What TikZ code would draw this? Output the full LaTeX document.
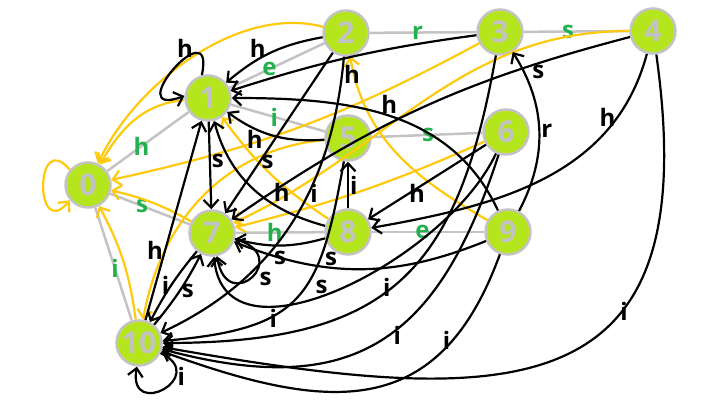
\documentclass[tikz,border=0pt]{standalone}
\usepackage{fontspec}
\setmainfont{Open Sans}
\usetikzlibrary{arrows.meta}
\definecolor{stategreen}{HTML}{B5E61D}
\definecolor{stategray}{HTML}{C3C3C3}
\definecolor{failyellow}{HTML}{FFC90E}
\definecolor{triegreen}{HTML}{22B14C}
\begin{document}
\begin{tikzpicture}
  [x=1pt,y=1pt,>={Straight Barb[length=8pt,width=15pt]},
   every node/.style={font=\bfseries\fontsize{24}{24}\selectfont,inner sep=1pt},
   state/.style={circle,fill=stategreen,draw=stategray,line width=2.5pt,minimum size=45pt,inner sep=0pt,text=stategray,font=\bfseries\fontsize{30}{30}\selectfont},
   trie/.style={draw=stategray,line width=2.5pt},
   failed/.style={->,draw=failyellow,line width=2.2pt},
   trans/.style={->,draw=black,line width=2.2pt},
   tlabel/.style={text=triegreen}]
  \useasboundingbox (0,0) rectangle (709,416);

  \node[state] (n0) at (88,231) {0};
  \node[state] (n1) at (208,318) {1};
  \node[state] (n2) at (346,383) {2};
  \node[state] (n3) at (500,384) {3};
  \node[state] (n4) at (653,385) {4};
  \node[state] (n5) at (348,278) {5};
  \node[state] (n6) at (506,284) {6};
  \node[state] (n7) at (212,183) {7};
  \node[state] (n8) at (348,184) {8};
  \node[state] (n9) at (508,184) {9};
  \node[state] (n10) at (139,73) {10};

  % trie
  \foreach \from/\to/\l/\p in {n0/n1/h/.42, n1/n2/e/.42, n2/n3/r/.45, n3/n4/s/.42,
      n1/n5/i/.46, n5/n6/s/.51, n0/n7/s/.4, n7/n8/h/.44, n8/n9/e/.45, n0/n10/i/.54}
    \draw[trie] (\from) -- node[tlabel,pos=\p] {\l} (\to);

  % failure links
  \draw[failed] (n0.140) .. controls +(130:55) and +(-130:55) .. (n0.-140);
  \draw[failed] (n1) to[out=185,in=60] (n0);
  \draw[failed] (n2) to[out=165,in=65,looseness=.85] (n0);
  \draw[failed] (n3) to[bend left=8] (n0);
  \draw[failed] (n7) to[bend right=8] (n0);
  \draw[failed] (n10) to[bend right=10] (n0);
  \draw[failed] (n5) to[out=185,in=80] (n10);
  \draw[failed] (n8) to[bend left=10] (n1);
  \draw[failed] (n6) to[bend left=5] (n7);
  \draw[failed] (n4) to[out=180,in=25] (n7);
  \draw[failed] (n9) to[out=150,in=-80] (n2);

  % transitions
  \draw[trans] (n1.105) .. controls +(78:70) and +(200:70) .. node[above=-1pt,pos=.38]{h} (n1.175);
  \draw[trans] (n1) -- node[right,pos=.45]{s} (n7);
  \draw[trans] (n2) to[bend right=15] node[above,pos=.65]{h} (n1);
  \draw[trans] (n2) -- node[right,pos=.68]{s} (n7);
  \draw[trans] (n2) to[out=-95,in=25] node[right,pos=.4]{i} (n10);
  \draw[trans] (n3) to[bend right=5] node[below=6pt,pos=.5]{h} (n1);
  \draw[trans] (n3) to[out=-100,in=0,looseness=1.3] node[left,pos=.52]{i} (n10);
  \draw[trans] (n4) to[out=-105,in=10] node[left,pos=.2]{h} (n8);
  \draw[trans] (n4) to[bend right=10] node[below,pos=.2]{s} (n7);
  \draw[trans] (n4) to[out=-82,in=-10,looseness=1.6] node[below left,pos=.33]{i} (n10);
  \draw[trans] (n5) to[out=-100,in=5,looseness=1.4] node[right,pos=.66]{i} (n10);
  \draw[trans] (n5) to[bend left=20] node[below,pos=.7]{h} (n1);
  \draw[trans] (n6) -- node[below left,pos=.5]{h} (n8);
  \draw[trans] (n6) to[out=-115,in=-85] node[above,pos=.55]{s} (n7);
  \draw[trans] (n6) to[out=-108,in=-15,looseness=1.3] node[below left,pos=.42]{i} (n10);
  \draw[trans] (n7.-15) .. controls +(-15:62) and +(-80:62) .. node[below right,pos=.4]{s} (n7.-78);
  \draw[trans] (n7) to[bend right=6] node[left]{i} (n10);
  \draw[trans] (n10) to[bend right=6] node[right]{s} (n7);
  \draw[trans] (n8) to[out=165,in=-75] node[above right,pos=.35]{h} (n1);
  \draw[trans] (n8) -- node[right]{i} (n5);
  \draw[trans] (n8) to[bend left=15] node[below=4pt]{s} (n7);
  \draw[trans] (n9) to[bend right=30] node[right]{r} (n3);
  \draw[trans] (n9) to[out=115,in=0] node[above]{h} (n1);
  \draw[trans] (n9) to[bend left=22] node[above,pos=.62]{s} (n7);
  \draw[trans] (n9) to[out=-110,in=-20,looseness=1.3] node[left,pos=.22]{i} (n10);
  \draw[trans] (n10) -- node[left,pos=.35]{h} (n1);
  \draw[trans] (n10.-25) .. controls +(-25:55) and +(-100:55) .. node[right,pos=.3]{i} (n10.-95);
\end{tikzpicture}
\end{document}
